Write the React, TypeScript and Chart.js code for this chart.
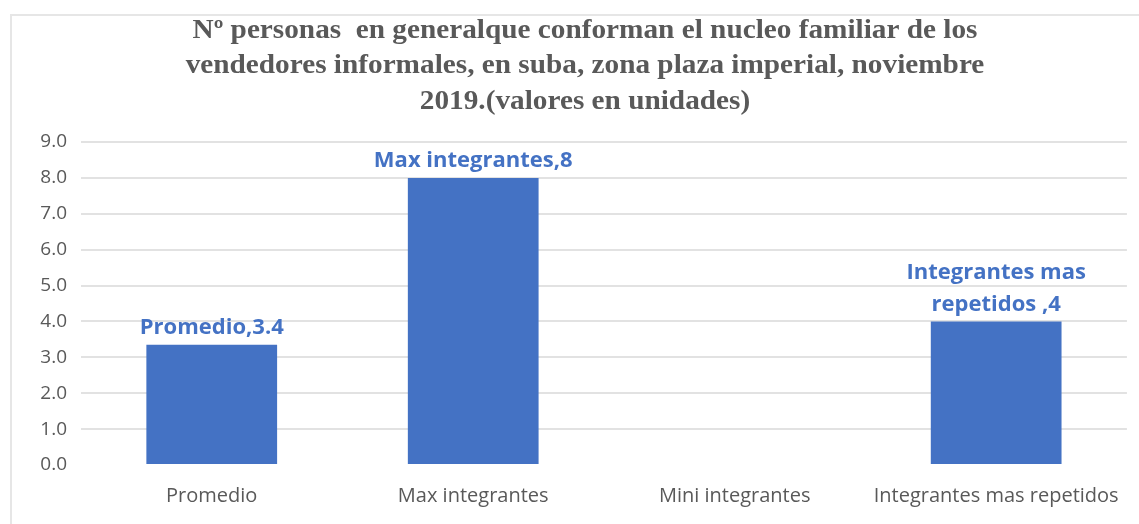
import React, { useEffect, useRef } from "react";
import { Chart, registerables } from "chart.js";

Chart.register(...registerables);

const categories = ["Promedio", "Max integrantes", "Mini integrantes", "Integrantes mas repetidos"];
const values = [3.35, 8, 0, 4];
const dataLabelLines: string[][] = [
  ["Promedio,3.4"],
  ["Max integrantes,8"],
  [],
  ["Integrantes mas", "repetidos ,4"],
];
const titleLines = [
  "Nº personas  en generalque conforman el nucleo familiar de los",
  "vendedores informales, en suba, zona plaza imperial, noviembre",
  "2019.(valores en unidades)",
];
const yMin = 0;
const yMax = 9;
const yStep = 1;

const BAR_COLOR = "#4472C4";
const TEXT_GRAY = "#595959";

const titlePlugin = {
  id: "stretchedTitle",
  afterDraw(chart: any) {
    const ctx = chart.ctx;
    ctx.save();
    ctx.font = "bold 27px 'Liberation Serif', 'Times New Roman', Tinos, serif";
    ctx.fillStyle = TEXT_GRAY;
    ctx.textAlign = "center";
    ctx.textBaseline = "middle";
    const natural = ctx.measureText(titleLines[0]).width;
    const sx = 785 / natural;
    titleLines.forEach((line, i) => {
      ctx.save();
      ctx.translate(585, 31 + i * 35.5);
      ctx.scale(sx, 1);
      ctx.fillText(line, 0, 0);
      ctx.restore();
    });
    ctx.restore();
  },
};

const dataLabelPlugin = {
  id: "barDataLabels",
  afterDatasetsDraw(chart: any) {
    const ctx = chart.ctx;
    const meta = chart.getDatasetMeta(0);
    ctx.save();
    ctx.font = "bold 22px 'Open Sans'";
    ctx.fillStyle = BAR_COLOR;
    ctx.textAlign = "center";
    ctx.textBaseline = "middle";
    meta.data.forEach((bar: any, i: number) => {
      const lines = dataLabelLines[i] || [];
      const n = lines.length;
      lines.forEach((line, k) => {
        const fromBottom = n - 1 - k;
        ctx.fillText(line, bar.x, bar.y - 17 - fromBottom * 32);
      });
    });
    ctx.restore();
  },
};

export default function App() {
  const canvasRef = useRef<HTMLCanvasElement | null>(null);

  useEffect(() => {
    if (!canvasRef.current) return;
    const chart = new Chart(canvasRef.current, {
      type: "bar",
      data: {
        labels: categories,
        datasets: [
          {
            data: values,
            backgroundColor: BAR_COLOR,
            borderWidth: 0,
            barPercentage: 0.5,
            categoryPercentage: 1,
          },
        ],
      },
      options: {
        responsive: false,
        animation: false,
        layout: { padding: { top: 142, right: 11, left: 0, bottom: 0 } },
        plugins: {
          legend: { display: false },
          tooltip: { enabled: false },
          title: { display: false },
        },
        scales: {
          x: {
            grid: { display: false, drawTicks: false },
            border: { display: false },
            ticks: {
              color: TEXT_GRAY,
              font: { family: "'Open Sans'", size: 20 },
              padding: 19,
              maxRotation: 0,
              autoSkip: false,
            },
            afterFit: (s: any) => {
              s.height = 59;
            },
          },
          y: {
            min: yMin,
            max: yMax,
            grid: {
              drawTicks: false,
              lineWidth: 2,
              color: (c: any) => (c.tick && c.tick.value === 0 ? "rgba(0,0,0,0)" : "#e2e2e2"),
            },
            border: { display: false },
            ticks: {
              stepSize: yStep,
              color: TEXT_GRAY,
              font: { family: "'Open Sans'", size: 19 },
              padding: 14,
              callback: (v: any) => Number(v).toFixed(1),
            },
            afterFit: (s: any) => {
              s.width = 81;
            },
          },
        },
      },
      plugins: [titlePlugin, dataLabelPlugin],
    });
    return () => chart.destroy();
  }, []);

  return (
    <div
      style={{
        position: "fixed",
        left: 0,
        top: 0,
        width: 1139,
        height: 524,
        background: "#ffffff",
        overflow: "hidden",
      }}
    >
      <canvas ref={canvasRef} width={1139} height={524} style={{ display: "block" }} />
      <div
        style={{
          position: "absolute",
          left: 10,
          top: 14,
          width: 1129,
          height: 520,
          borderTop: "2px solid #e6e6e6",
          borderLeft: "2px solid #e6e6e6",
          boxSizing: "border-box",
          pointerEvents: "none",
        }}
      />
    </div>
  );
}
